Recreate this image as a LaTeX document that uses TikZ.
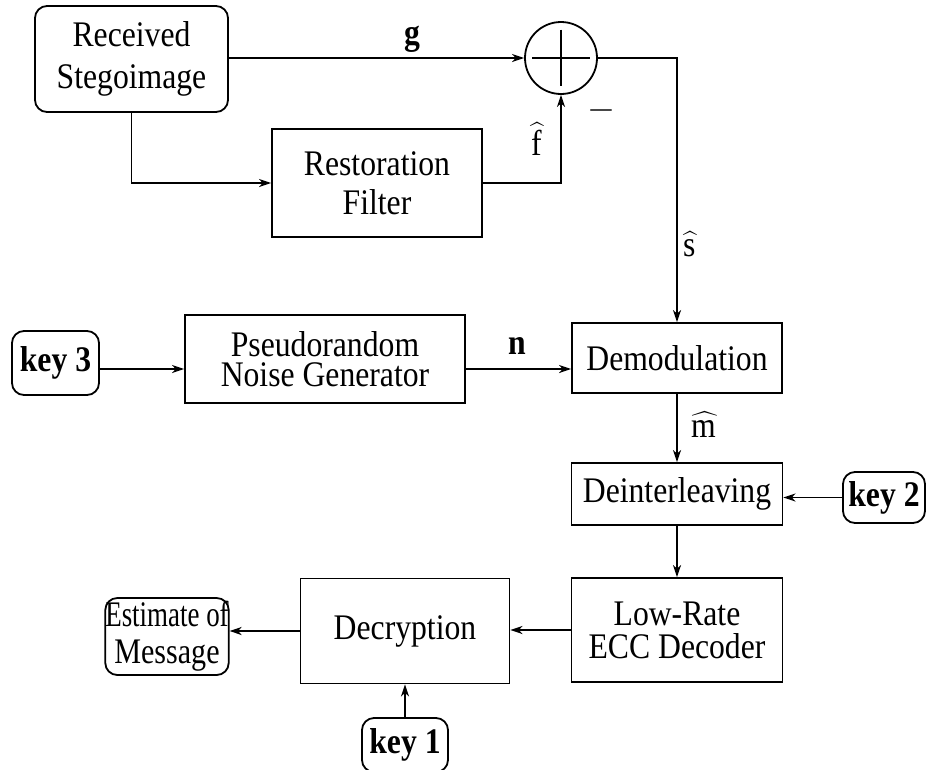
\documentclass[tikz,border=0pt]{standalone}
\usepackage{fix-cm}
\usepackage{amsmath}
\usepackage{graphicx}
\usepackage{fontspec}
\setmainfont{Liberation Serif}[FakeStretch=0.88]
\setmathrm{Liberation Serif}[FakeStretch=0.88]
\usetikzlibrary{arrows.meta}

\begin{document}
\begin{tikzpicture}[x=1pt, y=-1pt, line width=1.8pt,
  font=\fontsize{36}{40}\selectfont,
  >={Stealth[length=12pt,width=8pt,inset=3.5pt]},
  block/.style={draw, align=center, inner sep=0pt},
  rblock/.style={block, rounded corners=12pt},
  keybox/.style={rblock, font=\fontsize{36}{40}\selectfont\bfseries},
  sig/.style={anchor=base, inner sep=0pt}]
  % page size
  \useasboundingbox (0,0) rectangle (926,769);

  % upper part: restoration of the stego image
  \node[rblock, minimum width=193pt, minimum height=106pt,
    font=\fontsize{36}{42}\selectfont] (stego) at (131.5,59) {Received\\Stegoimage};
  \node[block, minimum width=210pt, minimum height=108pt,
    font=\fontsize{36}{39}\selectfont] (restore) at (377,183) {Restoration\\Filter};
  \node[draw, circle, minimum size=72pt, inner sep=0pt] (sum) at (561,58) {};
  \draw ([xshift=8pt]sum.west) -- ([xshift=-8pt]sum.east);
  \draw ([yshift=-8.5pt]sum.north) -- ([yshift=8.5pt]sum.south);

  % middle part
  \node[keybox, minimum width=87pt, minimum height=64pt] (key3) at (55.5,363) {key 3};
  \node[block, minimum width=280pt, minimum height=88pt,
    font=\fontsize{36}{30}\selectfont] (png) at (325,359) {Pseudorandom\\Noise Generator};
  \node[block, minimum width=210pt, minimum height=70pt] (demod) at (677,358) {Demodulation};
  \node[block, minimum width=211pt, minimum height=62pt] (deint) at (677,494) {Deinterleaving};
  \node[keybox, minimum width=82pt, minimum height=51pt] (key2) at (884,497.5) {key 2};

  % lower part
  \node[block, minimum width=211pt, minimum height=104pt,
    font=\fontsize{36}{33}\selectfont] (ecc) at (677,630) {Low-Rate\\ECC Decoder};
  \node[block, minimum width=209pt, minimum height=105pt] (decrypt) at (405,631) {Decryption};
  \node[rblock, minimum width=122pt, minimum height=77pt,
    font=\fontsize{36}{37}\selectfont] (est) at (167,636.5)
    {\scalebox{0.85}[1]{Estimate of}\\\scalebox{0.95}[1]{Message}};
  \node[keybox, minimum width=86pt, minimum height=54pt] (key1) at (405,745) {key 1};

  % signal labels
  \node[sig, font=\fontsize{36}{40}\selectfont\bfseries] (glab) at (412,44) {g};
  \node[sig] (fhat) at (537,155) {$\widehat{\mathrm{f}}$};
  \node[inner sep=0pt] (minus) at (601,110) {$-$};
  \node[sig] (shat) at (690,256) {$\widehat{\mathrm{s}}$};
  \node[sig, font=\fontsize{36}{40}\selectfont\bfseries] (nlab) at (517,354) {n};
  \node[sig] (mhat) at (705,437) {$\widehat{\mathrm{m}}$};

  % connections
  \coordinate (nrow) at (0,369);
  \draw[->] (stego.east |- sum.west) -- (sum.west);
  \draw[->] (stego.south) |- (restore.west);
  \draw[->] (restore.east) -| (sum.south);
  \draw[->] (sum.east) -| (demod.north);
  \draw[->] (key3.east |- nrow) -- (png.west |- nrow);
  \draw[->] (png.east |- nrow) -- (demod.west |- nrow);
  \draw[->] (demod) -- (deint);
  \draw[->] (key2.west) -- (key2.west -| deint.east);
  \draw[->] (deint) -- (ecc);
  \draw[->] (ecc.west) -- (ecc.west -| decrypt.east);
  \draw[->] (decrypt.west) -- (decrypt.west -| est.east);
  \draw[->] (key1) -- (decrypt);
\end{tikzpicture}
\end{document}
